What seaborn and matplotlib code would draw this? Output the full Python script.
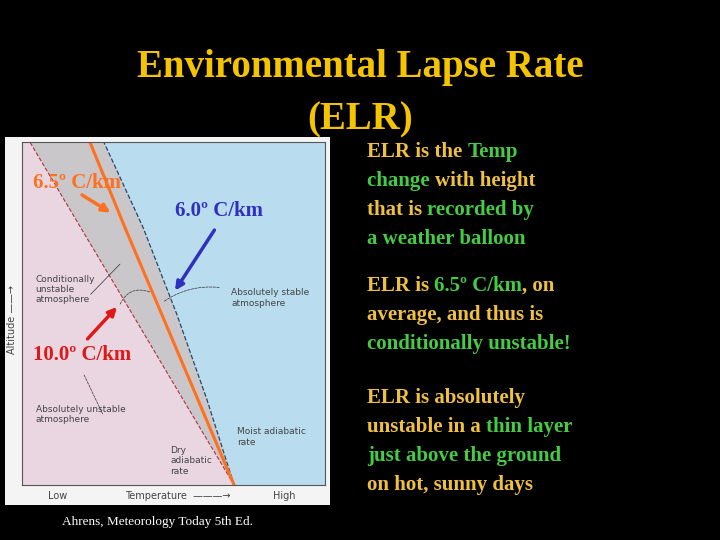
import numpy as np
import matplotlib
matplotlib.use("Agg")
import matplotlib.pyplot as plt
import seaborn as sns

sns.set_theme(style="white")
plt.rcParams['font.family'] = ['Liberation Serif', 'DejaVu Serif']

# 高度 (0 = 地面, 1 = 顶部) 与温度位置
altitude = [0.0, 0.25, 0.5, 0.75, 1.0]
dry_x = [0.70, 0.531, 0.363, 0.194, 0.026]     # 干绝热 10.0 C/km
elr_x = [0.70, 0.58, 0.46, 0.34, 0.224]        # 环境递减率 6.5 C/km
moist_x = [0.70, 0.61, 0.51, 0.40, 0.27]       # 湿绝热 6.0 C/km

GOLD = '#f5c400'
YEL = '#f0c040'
GRN = '#44cc44'

paragraphs = [
    [[('ELR is the ', YEL), ('Temp', GRN)],
     [('change ', GRN), ('with height', YEL)],
     [('that is ', YEL), ('recorded by', GRN)],
     [('a weather balloon', GRN)]],
    [[('ELR is ', YEL), ('6.5º C/km', GRN), (', on', YEL)],
     [('average, and thus is', YEL)],
     [('conditionally unstable!', GRN)]],
    [[('ELR is absolutely', YEL)],
     [('unstable in a ', YEL), ('thin layer', GRN)],
     [('just above the ground', GRN)],
     [('on hot, sunny days', YEL)]],
]
para_top = [152, 286, 398]

fig = plt.figure(figsize=(7.2, 5.4), dpi=100, facecolor='black')


def fx(px):
    return px / 720


def fy(py):
    return 1 - py / 540


# 标题
fig.text(fx(360), fy(68), 'Environmental Lapse Rate', color=GOLD, fontsize=28,
         fontweight='bold', ha='center', va='center')
fig.text(fx(360), fy(120), '(ELR)', color=GOLD, fontsize=28,
         fontweight='bold', ha='center', va='center')

# 白色底板
bg = fig.add_axes([fx(5), fy(505), fx(325), 368 / 540])
bg.set_facecolor('#f4f4f4')
bg.set_xticks([])
bg.set_yticks([])
for s in bg.spines.values():
    s.set_visible(False)

ax = fig.add_axes([fx(22), fy(485), fx(303), 343 / 540])
ax.set_xlim(0, 1)
ax.set_ylim(0, 1)
ax.set_xticks([])
ax.set_yticks([])
for s in ax.spines.values():
    s.set_color('#555555')
    s.set_linewidth(0.8)

ax.fill_betweenx(altitude, 0, dry_x, color='#e9d6e0', lw=0)
ax.fill_betweenx(altitude, dry_x, moist_x, color='#c9c7c9', lw=0)
ax.fill_betweenx(altitude, moist_x, 1, color='#b9dcef', lw=0)
ax.fill_betweenx([0, 0], 0.70, 1, color='#b9dcef', lw=0)
sns.lineplot(x=dry_x, y=altitude, ax=ax, sort=False, color='#b03040',
             lw=0.8, linestyle='--')
sns.lineplot(x=moist_x, y=altitude, ax=ax, sort=False, color='#204a70',
             lw=0.9, linestyle='--')
sns.lineplot(x=elr_x, y=altitude, ax=ax, sort=False, color='#ff7020', lw=2.2)

small = dict(fontsize=6.5, color='#444444', family='DejaVu Sans', va='center')
ax.text(0.045, 0.57, 'Conditionally\nunstable\natmosphere', **small)
ax.text(0.69, 0.545, 'Absolutely stable\natmosphere', **small)
ax.text(0.045, 0.205, 'Absolutely unstable\natmosphere', **small)
ax.text(0.49, 0.07, 'Dry\nadiabatic\nrate', **small)
ax.text(0.71, 0.14, 'Moist adiabatic\nrate', **small)

lead = dict(arrowstyle='-', color='#333333', lw=0.5, linestyle='--')
ax.annotate('', xy=(0.33, 0.65), xytext=(0.22, 0.55), arrowprops=dict(arrowstyle='-', color='#333333', lw=0.5))
ax.annotate('', xy=(0.43, 0.56), xytext=(0.32, 0.52), arrowprops=dict(lead, connectionstyle='arc3,rad=-0.5'))
ax.annotate('', xy=(0.46, 0.53), xytext=(0.66, 0.575), arrowprops=dict(lead, connectionstyle='arc3,rad=0.2'))
ax.annotate('', xy=(0.20, 0.33), xytext=(0.27, 0.20), arrowprops=lead)

big = dict(fontsize=15, fontweight='bold', va='center')
ax.text(0.035, 0.88, '6.5º C/km', color='#ff7020', **big)
ax.text(0.65, 0.80, '6.0º C/km', color='#3030c0', ha='center', **big)
ax.text(0.035, 0.38, '10.0º C/km', color='#e01818', **big)
ax.annotate('', xy=(0.30, 0.79), xytext=(0.19, 0.85),
            arrowprops=dict(arrowstyle='-|>', color='#ff7020', lw=2.5))
ax.annotate('', xy=(0.50, 0.56), xytext=(0.64, 0.75),
            arrowprops=dict(arrowstyle='-|>', color='#3030c0', lw=2.5))
ax.annotate('', xy=(0.32, 0.525), xytext=(0.21, 0.42),
            arrowprops=dict(arrowstyle='-|>', color='#e01818', lw=2.5))

# 坐标轴说明
lab = dict(fontsize=7, color='#444444', family='DejaVu Sans', va='center')
fig.text(fx(48), fy(496), 'Low', **lab)
fig.text(fx(125), fy(496), 'Temperature  ———→', **lab)
fig.text(fx(273), fy(496), 'High', **lab)
fig.text(fx(12), fy(320), 'Altitude ——→', rotation=90, ha='center', **lab)

fig.text(fx(157), fy(522), 'Ahrens, Meteorology Today 5th Ed.', color='white',
         fontsize=9.5, ha='center', va='center')

# 右侧说明文字
for top, lines in zip(para_top, paragraphs):
    for i, line in enumerate(lines):
        prev = None
        for txt, col in line:
            kw = dict(color=col, fontsize=15, fontweight='bold', va='center')
            if prev is None:
                prev = fig.text(fx(367), fy(top + 29 * i), txt, ha='left', **kw)
            else:
                prev = fig.text(0, 0, txt, ha='left', transform=None, **kw)
                prev.set_transform(matplotlib.transforms.offset_copy(
                    fig.transFigure, fig=fig, x=0, y=0))
                prev.remove()
                break
        # 重新按片段拼接
        x0 = None
        prev = None
        for txt, col in line:
            kw = dict(color=col, fontsize=15, fontweight='bold', va='center')
            if prev is None:
                continue
        if len(line) > 1:
            first = [t for t in fig.texts if t.get_text() == line[0][0]
                     and abs(t.get_position()[1] - fy(top + 29 * i)) < 1e-6][-1]
            prev = first
            for txt, col in line[1:]:
                prev = fig.text(0, 0, txt, color=col, fontsize=15,
                                fontweight='bold', va='center', ha='left')
                prev.set_position((0, 0))
                prev.remove()
                prev = plt.annotate(txt, xy=(1, 0.5), xycoords=first,
                                    va='center', ha='left', color=col,
                                    fontsize=15, fontweight='bold')
                first = prev

fig.savefig('out.png', dpi=100, facecolor='black')
